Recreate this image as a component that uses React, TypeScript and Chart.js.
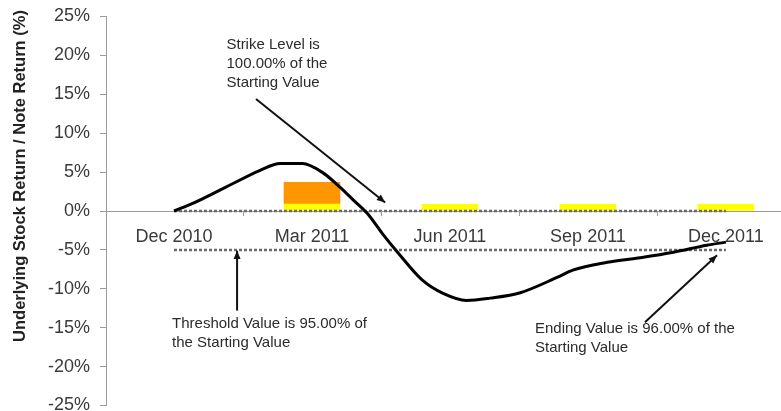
import React, { useEffect, useRef } from "react";
import { Chart, registerables } from "chart.js";

Chart.register(...registerables);

// ---- data ----
const categories = ["Dec 2010", "Mar 2011", "Jun 2011", "Sep 2011", "Dec 2011"];
const categoryIndex = [0, 1, 2, 3, 4];
const boundaryTicks = [0.5, 1.5, 2.5, 3.5];

const yMin = -25;
const yMax = 25;
const yStep = 5;

// underlying stock return path (x in category units, y in %)
const curveX = [0, 0.14, 0.38, 0.62, 0.77, 0.93, 1.08, 1.2, 1.3, 1.4, 1.51, 1.62, 1.8, 1.95, 2.12, 2.29, 2.51, 2.78, 2.89, 3.14, 3.38, 3.62, 3.86, 4.0];
const curveY = [0, 1.0, 3.1, 5.2, 6.1, 6.1, 4.9, 3.1, 1.4, -0.3, -2.9, -5.3, -8.9, -10.6, -11.5, -11.2, -10.5, -8.5, -7.6, -6.6, -6.0, -5.3, -4.4, -4.0];

// quarterly bars
const yellowX = [1, 2, 3, 4];
const yellowTop = [0.9, 0.85, 0.85, 0.85];
const orangeX = [1];
const orangeTop = [3.7];

const strikeLevel = 0; // 100% of starting value
const thresholdLevel = -5; // 95% of starting value
const refLineX = [0, 4];

// annotation texts
const strikeText = ["Strike Level is", "100.00% of the", "Starting Value"];
const thresholdText = ["Threshold Value is 95.00% of", "the Starting Value"];
const endingText = ["Ending Value is 96.00% of the", "Starting Value"];

const yTitle = "Underlying Stock Return / Note Return (%)";

// annotation anchors in data units
const annotations = [
  { lines: strikeText, tx: 0.38, ty: 21.3, from: [0.594, 14.4], to: [1.53, 1.1] },
  { lines: thresholdText, tx: -0.014, ty: -14.5, from: [0.457, -12.8], to: [0.457, -5.1] },
  { lines: endingText, tx: 2.616, ty: -15.2, from: [3.413, -14.3], to: [3.935, -5.7] },
];

const FONT = "'Liberation Sans', Arial, sans-serif";

const annotationPlugin = {
  id: "annotationsAndTitle",
  afterDatasetsDraw(chart: any) {
    const { ctx, scales } = chart;
    const xs = scales.x;
    const ys = scales.y;
    ctx.save();
    // small tick marks between categories on the zero axis
    const y0px = ys.getPixelForValue(0);
    ctx.strokeStyle = "#9a9a9a";
    ctx.lineWidth = 1;
    for (const t of boundaryTicks) {
      const px = Math.round(xs.getPixelForValue(t)) + 0.5;
      ctx.beginPath();
      ctx.moveTo(px, y0px);
      ctx.lineTo(px, y0px + 5);
      ctx.stroke();
    }
    // annotations
    for (const a of annotations) {
      ctx.fillStyle = "#2b2b2b";
      ctx.font = `15px ${FONT}`;
      ctx.textAlign = "left";
      ctx.textBaseline = "middle";
      const x0 = xs.getPixelForValue(a.tx);
      const y0 = ys.getPixelForValue(a.ty);
      a.lines.forEach((l: string, i: number) => ctx.fillText(l, x0, y0 + i * 19));
      const fx = xs.getPixelForValue(a.from[0]);
      const fy = ys.getPixelForValue(a.from[1]);
      const tx = xs.getPixelForValue(a.to[0]);
      const ty = ys.getPixelForValue(a.to[1]);
      ctx.strokeStyle = "#111";
      ctx.lineWidth = 2;
      ctx.beginPath();
      ctx.moveTo(fx, fy);
      ctx.lineTo(tx, ty);
      ctx.stroke();
      const ang = Math.atan2(ty - fy, tx - fx);
      const hl = 9;
      const hw = 0.4;
      ctx.fillStyle = "#111";
      ctx.beginPath();
      ctx.moveTo(tx, ty);
      ctx.lineTo(tx - hl * Math.cos(ang - hw), ty - hl * Math.sin(ang - hw));
      ctx.lineTo(tx - hl * Math.cos(ang + hw), ty - hl * Math.sin(ang + hw));
      ctx.closePath();
      ctx.fill();
    }
    // y-axis title
    ctx.translate(20, 176);
    ctx.rotate(-Math.PI / 2);
    ctx.font = `bold 16.5px ${FONT}`;
    ctx.fillStyle = "#222";
    ctx.textAlign = "center";
    ctx.textBaseline = "middle";
    ctx.fillText(yTitle, 0, 0);
    ctx.restore();
  },
};

export default function App() {
  const ref = useRef<HTMLCanvasElement>(null);
  useEffect(() => {
    if (!ref.current) return;
    const xMin = -0.493;
    const xMax = 4.399;
    const chart = new Chart(ref.current, {
      type: "line",
      data: {
        datasets: [
          {
            type: "line",
            label: "Underlying",
            data: curveX.map((x, i) => ({ x, y: curveY[i] })),
            borderColor: "#000",
            borderWidth: 3,
            pointRadius: 0,
            cubicInterpolationMode: "monotone",
            order: 0,
          } as any,
          {
            type: "line",
            label: "Strike",
            data: refLineX.map((x) => ({ x, y: strikeLevel })),
            borderColor: "#6a6a6a",
            borderWidth: 2.5,
            borderDash: [3, 2],
            pointRadius: 0,
            order: 1,
          } as any,
          {
            type: "line",
            label: "Threshold",
            data: refLineX.map((x) => ({ x, y: thresholdLevel })),
            borderColor: "#6a6a6a",
            borderWidth: 2.5,
            borderDash: [3, 2],
            pointRadius: 0,
            order: 1,
          } as any,
          {
            type: "bar",
            label: "Coupon",
            data: yellowX.map((x, i) => ({ x, y: [0, yellowTop[i]] })),
            backgroundColor: "#FFFF00",
            barThickness: 56,
            grouped: false,
            order: 2,
          } as any,
          {
            type: "bar",
            label: "Extra",
            data: orangeX.map((x, i) => ({ x, y: [yellowTop[i], orangeTop[i]] })),
            backgroundColor: "#FF9600",
            barThickness: 56,
            grouped: false,
            order: 2,
          } as any,
        ],
      },
      options: {
        animation: false,
        responsive: true,
        maintainAspectRatio: false,
        layout: { padding: { top: 16.5, bottom: 5.5, left: 0, right: 0 } },
        plugins: { legend: { display: false }, tooltip: { enabled: false } },
        scales: {
          x: {
            type: "linear",
            position: { y: 0 } as any,
            offset: false,
            min: xMin,
            max: xMax,
            afterBuildTicks: (axis: any) => {
              axis.ticks = categoryIndex.map((v) => ({ value: v }));
            },
            ticks: {
              callback: (v: any) => categories[Math.round(Number(v))] ?? "",
              font: { family: FONT, size: 18 },
              color: "#3a3a3a",
              padding: 15,
              maxRotation: 0,
              autoSkip: false,
            },
            grid: { drawOnChartArea: false, drawTicks: false },
            border: { display: true, color: "#9a9a9a", width: 1 },
          } as any,
          y: {
            type: "linear",
            min: yMin,
            max: yMax,
            afterFit: (scale: any) => {
              scale.width = 106;
              scale.paddingTop = 0;
              scale.paddingBottom = 0;
            },
            ticks: {
              stepSize: yStep,
              callback: (v: any) => `${v}%`,
              font: { family: FONT, size: 18 },
              color: "#3a3a3a",
              padding: 10,
            },
            grid: { drawOnChartArea: false, tickLength: 6, color: "#9a9a9a" },
            border: { display: true, color: "#9a9a9a", width: 1 },
          },
        },
      },
      plugins: [annotationPlugin],
    });
    return () => chart.destroy();
  }, []);
  return (
    <div style={{ position: "absolute", left: 0, top: 0, width: 781, height: 411, background: "#fff" }}>
      <canvas ref={ref} />
    </div>
  );
}
